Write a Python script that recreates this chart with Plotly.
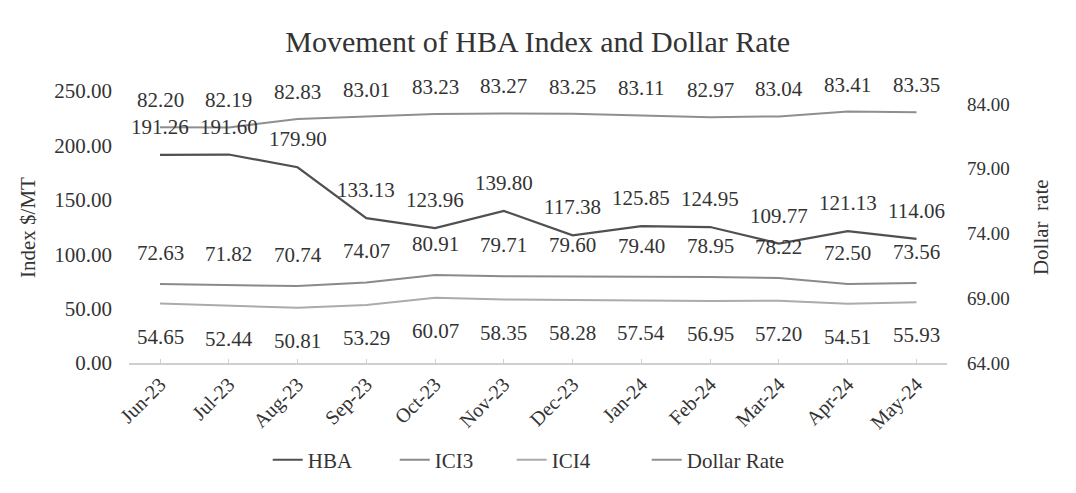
import plotly.graph_objects as go

months = ["Jun-23", "Jul-23", "Aug-23", "Sep-23", "Oct-23", "Nov-23",
          "Dec-23", "Jan-24", "Feb-24", "Mar-24", "Apr-24", "May-24"]
hba = [191.26, 191.60, 179.90, 133.13, 123.96, 139.80,
       117.38, 125.85, 124.95, 109.77, 121.13, 114.06]
ici3 = [72.63, 71.82, 70.74, 74.07, 80.91, 79.71,
        79.60, 79.40, 78.95, 78.22, 72.50, 73.56]
ici4 = [54.65, 52.44, 50.81, 53.29, 60.07, 58.35,
        58.28, 57.54, 56.95, 57.20, 54.51, 55.93]
dollar = [82.20, 82.19, 82.83, 83.01, 83.23, 83.27,
          83.25, 83.11, 82.97, 83.04, 83.41, 83.35]

left_ticks = [0, 50, 100, 150, 200, 250]
right_ticks = [64, 69, 74, 79, 84]

FONT = "Liberation Serif, Times New Roman, serif"
TXT = "#333333"

fig = go.Figure()
fig.add_trace(go.Scatter(x=months, y=hba, name="HBA", mode="lines", legendwidth=82,
                         line=dict(color="#505050", width=2.2)))
fig.add_trace(go.Scatter(x=months, y=ici3, name="ICI3", mode="lines", legendwidth=72,
                         line=dict(color="#8a8a8a", width=2)))
fig.add_trace(go.Scatter(x=months, y=ici4, name="ICI4", mode="lines", legendwidth=90,
                         line=dict(color="#ababab", width=2)))
fig.add_trace(go.Scatter(x=months, y=dollar, name="Dollar Rate", mode="lines", legendwidth=110,
                         line=dict(color="#8f8f8f", width=2), yaxis="y2"))

annotations = []
def add_labels(vals, yref, shift):
    for m, v in zip(months, vals):
        annotations.append(dict(x=m, y=v, xref="x", yref=yref, text=f"{v:.2f}",
                                showarrow=False, yshift=shift,
                                font=dict(family=FONT, size=21, color=TXT)))

add_labels(hba, "y", 28)
add_labels(ici3, "y", 31)
add_labels(ici4, "y", -33)
add_labels(dollar, "y2", 27)

annotations.append(dict(x=-0.1235, y=0.5, xref="paper", yref="paper", text="Index $/MT",
                        textangle=-90, showarrow=False, xanchor="center", yanchor="middle",
                        font=dict(family=FONT, size=21, color=TXT)))
annotations.append(dict(x=1.115, y=0.5, xref="paper", yref="paper", text="Dollar&nbsp;&nbsp;rate",
                        textangle=-90, showarrow=False, xanchor="center", yanchor="middle",
                        font=dict(family=FONT, size=21, color=TXT)))

fig.update_layout(
    width=1068, height=485,
    margin=dict(l=121, r=129, t=83, b=130),
    paper_bgcolor="white", plot_bgcolor="white",
    title=dict(text="Movement of HBA Index and Dollar Rate", x=0.496, xanchor="center",
               y=0.93, yanchor="middle",
               font=dict(family=FONT, size=30, color=TXT)),
    font=dict(family=FONT, color=TXT),
    xaxis=dict(tickangle=-45, showgrid=False, showline=True, linecolor="#cfcfcf",
               linewidth=1.5, ticks="inside", ticklen=4, tickcolor="#cfcfcf",
               tickfont=dict(family=FONT, size=20, color=TXT), zeroline=False),
    yaxis=dict(range=[0, 250], tickvals=left_ticks,
               ticktext=[f"{t:.2f}" for t in left_ticks],
               showgrid=False, zeroline=False, showline=False, ticklabelstandoff=16,
               tickfont=dict(family=FONT, size=21, color=TXT)),
    yaxis2=dict(range=[64, 85], tickvals=right_ticks,
                ticktext=[f"{t:.2f}" for t in right_ticks],
                overlaying="y", side="right", showgrid=False, zeroline=False,
                showline=False, ticklabelstandoff=19,
                tickfont=dict(family=FONT, size=19, color=TXT)),
    legend=dict(orientation="h", x=0.496, xanchor="center", y=-0.357, yanchor="middle",
                font=dict(family=FONT, size=21, color=TXT)),
    annotations=annotations,
)

fig.write_html("out.html")
